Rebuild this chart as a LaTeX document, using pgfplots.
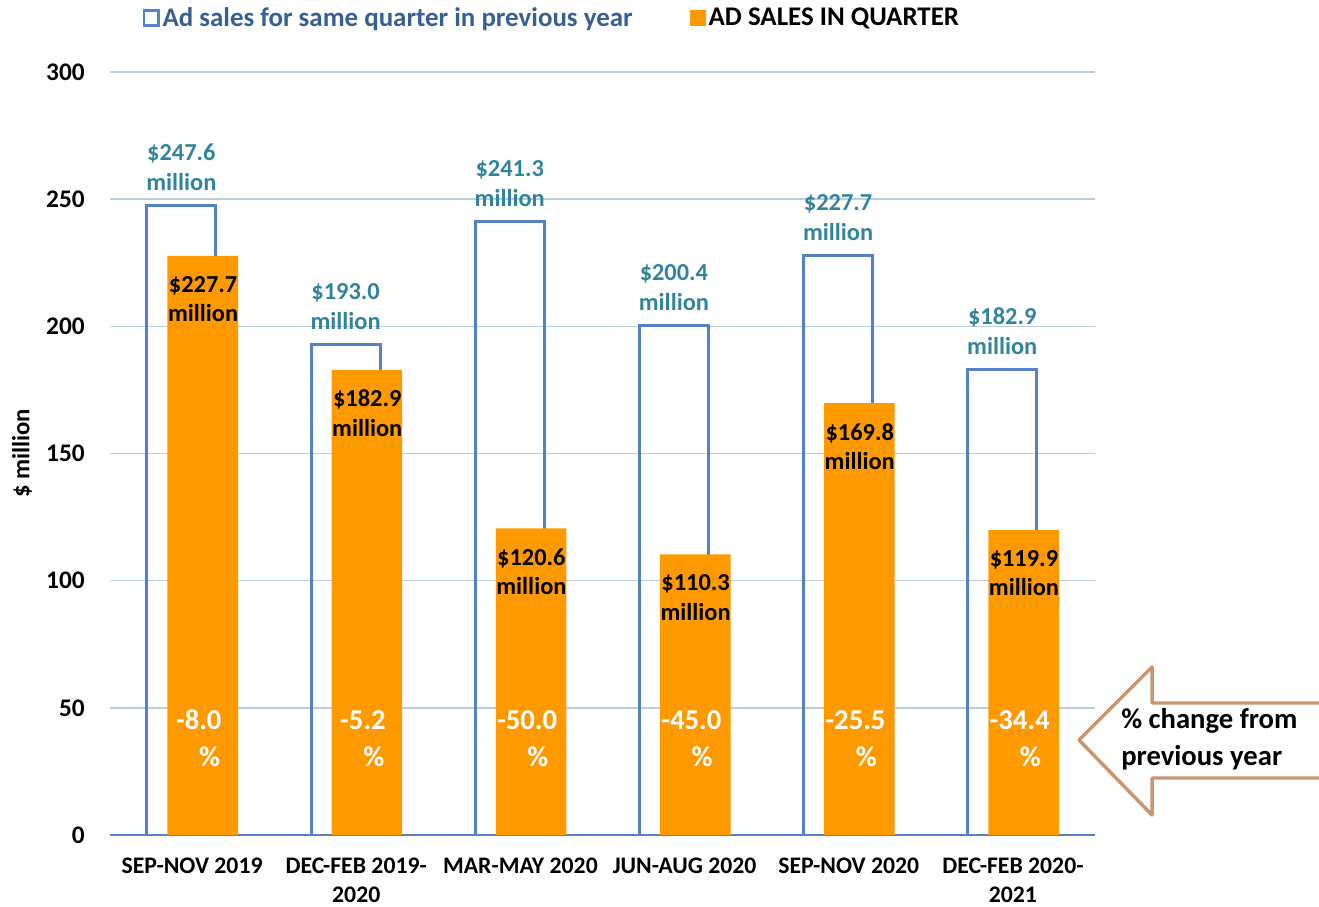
\documentclass[border=0pt]{standalone}
\usepackage{fontspec}
\setmainfont{Carlito}
\usepackage{pgfplots}
\usepackage{pgfplotstable}
\pgfplotsset{compat=1.18}

\definecolor{outblue}{RGB}{84,130,196}
\definecolor{adorange}{RGB}{255,153,0}
\definecolor{labteal}{RGB}{49,132,155}
\definecolor{legblue}{RGB}{55,96,146}
\definecolor{gridblue}{RGB}{185,205,229}
\definecolor{arrowtan}{RGB}{200,150,112}

% previous-year sales, quarter sales, % change, height of the % label
\pgfplotstableread{
x prev  cur   pct   pcty
0 247.6 227.7 -8.0  26.7
1 193.0 182.9 -5.2  26.7
2 241.3 120.6 -50.0 26.7
3 200.4 110.3 -45.0 26.7
4 227.7 169.8 -25.5 26.7
5 182.9 119.9 -34.4 26.7
}\adsales

\begin{document}
\begin{tikzpicture}
\path[use as bounding box] (0,0) rectangle (989.25pt,679.5pt);
\begin{axis}[
  at={(82.5pt,53.25pt)}, anchor=south west,
  scale only axis, width=738.75pt, height=572.25pt,
  xmin=-0.5, xmax=5.5, ymin=0, ymax=300,
  xtick={0,...,5},
  xticklabels={SEP-NOV 2019, {DEC-FEB 2019-\\2020}, MAR-MAY 2020,
    JUN-AUG 2020, SEP-NOV 2020, {DEC-FEB 2020-\\2021}},
  ytick={0,50,...,300},
  major tick length=0pt,
  axis x line*=bottom, axis y line*=left,
  y axis line style={draw=none},
  x axis line style={outblue, line width=1.5pt},
  ymajorgrids, grid style={gridblue, line width=1.2pt},
  /pgf/number format/assume math mode=true,
  yticklabel style={font=\fontsize{19}{19}\selectfont\bfseries,
    anchor=east, inner sep=0pt, xshift=-18.75pt},
  xticklabel style={font=\fontsize{17.8}{21.75}\selectfont\bfseries,
    align=center, anchor=north, inner sep=0pt, yshift=-17pt},
  ylabel={\$ million},
  every axis y label/.style={at={(rel axis cs:0,0.5)}, xshift=-66pt,
    rotate=90, anchor=center, font=\fontsize{18.5}{18.5}\selectfont\bfseries},
  legend style={at={(0.449,1.0708)}, anchor=center, draw=none, fill=none,
    font=\fontsize{20.2}{20.2}\selectfont\bfseries,
    /tikz/every even column/.append style={column sep=41pt}},
  legend columns=2, legend cell align=left,
]
\addplot[ybar, bar width=0.42, bar shift=-0.065, draw=outblue,
  line width=2.2pt, fill=none,
  point meta=explicit symbolic,
  nodes near coords={\$\pgfplotspointmeta\\million},
  every node near coord/.append style={anchor=south, inner sep=0pt,
    yshift=10pt, xshift=-8pt, align=center, text=labteal,
    font=\fontsize{18.3}{22.5}\selectfont\bfseries},
  legend image code/.code={\draw[outblue, line width=1.8pt]
    (0pt,-5.5pt) rectangle (11pt,5.5pt);}]
  table[x=x, y=prev, meta=prev] {\adsales};
\addlegendentry{\textcolor{legblue}{Ad sales for same quarter in previous year}}
\addplot[ybar, bar width=0.43, bar shift=0.065, draw=none, fill=adorange,
  point meta=explicit symbolic,
  nodes near coords={\$\pgfplotspointmeta\\million},
  every node near coord/.append style={anchor=north, inner sep=0pt,
    yshift=-15pt, xshift=8.25pt, align=center, text=black,
    font=\fontsize{18.3}{22}\selectfont\bfseries},
  legend image code/.code={\fill[adorange]
    (0pt,-6pt) rectangle (12pt,6pt);}]
  table[x=x, y=cur, meta=cur] {\adsales};
\addlegendentry{AD SALES IN QUARTER}
\addplot[ybar, bar width=0.43, bar shift=0.065, draw=none, fill=none,
  forget plot, point meta=explicit symbolic,
  nodes near coords={\pgfplotspointmeta\hspace*{0.3em}\\\hspace*{0.45em}\%},
  every node near coord/.append style={anchor=south, inner sep=0pt,
    xshift=8.25pt, align=center, text=white,
    font=\fontsize{21.5}{27.75}\selectfont\bfseries}]
  table[x=x, y=pcty, meta=pct] {\adsales};
\end{axis}
\begin{scope}[x=0.75pt, y=-0.75pt, yshift=679.5pt]
  \draw[arrowtan, line width=2.6pt, line join=round, fill=white]
    (1079,740) -- (1152,667) -- (1152,703) -- (1330,703) -- (1330,778)
    -- (1152,778) -- (1152,815) -- cycle;
  \node[anchor=west, align=left, inner sep=0pt,
    font=\fontsize{21.5}{27.75}\selectfont\bfseries] at (1121,739)
    {\% change from\\previous year};
\end{scope}
\end{tikzpicture}
\end{document}
